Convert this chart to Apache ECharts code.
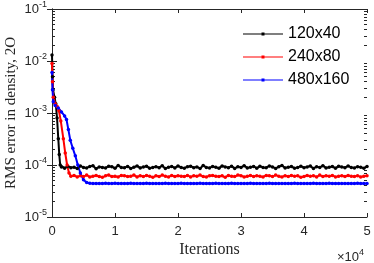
<!DOCTYPE html>
<html>
<head>
<meta charset="utf-8">
<script src="https://cdn.jsdelivr.net/npm/echarts@6/dist/echarts.min.js"></script>
<style>html,body{margin:0;padding:0;background:#fff;}#c{width:374px;height:263px;}</style>
</head>
<body>
<div id="c"></div>
<script>
// ---- data ----
const seriesNames = ['120x40', '240x80', '480x160'];
const xTickLabels = ['0', '1', '2', '3', '4', '5'];
const yTickExponents = [-5, -4, -3, -2, -1];

// transient parts (iteration, value)
const blackEarlyIter = [0, 80, 160, 400, 600, 800, 1000, 1150, 1300];
const blackEarlyVal  = [1.3e-2, 5.0e-3, 2.8e-3, 2.0e-3, 1.5e-3, 8.0e-4, 3.2e-4, 1.6e-4, 1.0e-4];
const redEarlyIter = [0, 80, 200, 500, 800, 1100, 1400, 1800, 2100, 2400, 2700];
const redEarlyVal  = [9.0e-3, 4.0e-3, 2.0e-3, 1.5e-3, 1.35e-3, 1.1e-3, 7.0e-4, 3.2e-4, 1.7e-4, 1.0e-4, 7.0e-5];
const blueEarlyIter = [0, 80, 200, 500, 1000, 1500, 2000, 2300, 2600, 2900, 3300, 3700, 4100, 4500, 5000, 5500, 6000];
const blueEarlyVal  = [6.0e-3, 2.8e-3, 1.65e-3, 1.4e-3, 1.25e-3, 1.05e-3, 8.8e-4, 7.5e-4, 4.8e-4, 3.0e-4, 2.1e-4, 1.5e-4, 1.0e-4, 7.0e-5, 5.2e-5, 4.6e-5, 4.45e-5];

// plateau parts, sampled every 500 iterations
const plateauStep = 500;
const blackPlateauStart = 1500;
const blackPlateau = [
9.2e-5,8.7e-5,9.5e-5,8.9e-5,9.1e-5,8.6e-5,9.6e-5,9.0e-5,8.8e-5,9.4e-5,9.7e-5,8.5e-5,9.2e-5,9.0e-5,8.8e-5,9.5e-5,9.3e-5,8.7e-5,9.8e-5,9.0e-5,
8.9e-5,9.4e-5,8.6e-5,9.1e-5,9.6e-5,8.8e-5,9.2e-5,9.5e-5,8.7e-5,9.0e-5,9.3e-5,8.9e-5,9.7e-5,8.6e-5,9.1e-5,9.4e-5,8.8e-5,9.6e-5,9.0e-5,8.7e-5,
9.3e-5,9.5e-5,8.9e-5,9.2e-5,8.6e-5,9.8e-5,9.0e-5,8.8e-5,9.4e-5,9.1e-5,8.7e-5,9.6e-5,9.2e-5,8.9e-5,9.5e-5,8.6e-5,9.3e-5,9.0e-5,9.7e-5,8.8e-5,
9.1e-5,9.4e-5,8.7e-5,9.5e-5,9.0e-5,8.9e-5,9.6e-5,9.2e-5,8.6e-5,9.3e-5,9.8e-5,8.8e-5,9.1e-5,9.4e-5,8.7e-5,9.0e-5,9.5e-5,8.9e-5,9.2e-5,9.6e-5,
8.6e-5,9.3e-5,9.0e-5,9.7e-5,8.8e-5,9.1e-5,9.4e-5,8.7e-5,9.5e-5,9.2e-5,8.9e-5,9.6e-5,9.0e-5,8.8e-5,9.3e-5,9.1e-5,8.7e-5,9.4e-5];
const redPlateauStart = 3000;
const redPlateau = [
6.1e-5,6.3e-5,5.9e-5,6.2e-5,6.0e-5,6.4e-5,5.9e-5,6.1e-5,6.3e-5,6.0e-5,5.8e-5,6.2e-5,6.4e-5,6.0e-5,6.1e-5,5.9e-5,6.3e-5,6.2e-5,6.0e-5,6.1e-5,
6.4e-5,5.9e-5,6.2e-5,6.0e-5,6.3e-5,6.1e-5,5.8e-5,6.2e-5,6.0e-5,6.4e-5,6.1e-5,5.9e-5,6.3e-5,6.0e-5,6.2e-5,6.1e-5,6.0e-5,6.3e-5,5.9e-5,6.2e-5,
6.1e-5,6.4e-5,6.0e-5,5.9e-5,6.2e-5,6.3e-5,6.1e-5,6.0e-5,6.2e-5,5.8e-5,6.3e-5,6.1e-5,6.0e-5,6.4e-5,6.2e-5,5.9e-5,6.1e-5,6.3e-5,6.0e-5,6.2e-5,
6.1e-5,5.9e-5,6.3e-5,6.2e-5,6.0e-5,6.4e-5,6.1e-5,5.9e-5,6.2e-5,6.0e-5,6.3e-5,6.1e-5,6.2e-5,5.8e-5,6.0e-5,6.3e-5,6.1e-5,6.2e-5,5.9e-5,6.4e-5,
6.0e-5,6.2e-5,6.1e-5,6.3e-5,5.9e-5,6.1e-5,6.2e-5,6.0e-5,6.3e-5,6.1e-5,6.0e-5,6.2e-5,5.9e-5,6.1e-5,6.2e-5];
const bluePlateauStart = 6500;
const bluePlateau = [
4.42e-5,4.40e-5,4.43e-5,4.41e-5,4.44e-5,4.40e-5,4.42e-5,4.45e-5,4.41e-5,4.43e-5,4.40e-5,4.42e-5,4.44e-5,4.41e-5,4.43e-5,4.42e-5,4.40e-5,4.44e-5,4.41e-5,4.42e-5,
4.43e-5,4.40e-5,4.42e-5,4.45e-5,4.41e-5,4.42e-5,4.43e-5,4.40e-5,4.44e-5,4.42e-5,4.41e-5,4.43e-5,4.42e-5,4.40e-5,4.44e-5,4.41e-5,4.43e-5,4.42e-5,4.41e-5,4.44e-5,
4.40e-5,4.42e-5,4.43e-5,4.41e-5,4.45e-5,4.42e-5,4.40e-5,4.43e-5,4.41e-5,4.42e-5,4.44e-5,4.40e-5,4.42e-5,4.43e-5,4.41e-5,4.42e-5,4.44e-5,4.40e-5,4.43e-5,4.42e-5,
4.41e-5,4.43e-5,4.40e-5,4.42e-5,4.44e-5,4.41e-5,4.42e-5,4.43e-5,4.40e-5,4.42e-5,4.45e-5,4.41e-5,4.43e-5,4.42e-5,4.40e-5,4.44e-5,4.41e-5,4.42e-5,4.43e-5,4.41e-5,
4.42e-5,4.40e-5,4.43e-5,4.42e-5,4.44e-5,4.41e-5,4.42e-5,4.43e-5];

// ---- build ----
function build(earlyIter, earlyVal, pStart, plateau) {
  const out = earlyIter.map((it, i) => [it, earlyVal[i]]);
  plateau.forEach((v, i) => out.push([pStart + i * plateauStep, v]));
  return out;
}
const dataBlack = build(blackEarlyIter, blackEarlyVal, blackPlateauStart, blackPlateau);
const dataRed = build(redEarlyIter, redEarlyVal, redPlateauStart, redPlateau);
const dataBlue = build(blueEarlyIter, blueEarlyVal, bluePlateauStart, bluePlateau);

const minorLog = [];
for (let e = -5; e < -1; e++) for (let k = 2; k <= 9; k++) minorLog.push(e + Math.log10(k));

const AX = '#262626';
const SANS = 'Liberation Sans';
const SERIF = 'Liberation Serif';
const gridRect = { left: 52, right: 7, top: 9, bottom: 46, outerBoundsMode: 'none', containLabel: false };

const supRich = {
  a: { fontSize: 13, fontFamily: SANS, color: AX, fontWeight: 'normal' },
  b: { fontSize: 9, fontFamily: SANS, color: AX, fontWeight: 'normal', padding: [0, 0, 9, 0] }
};

const chart = echarts.init(document.getElementById('c'), null, { renderer: 'canvas' });
const mkSeries = (name, color, data) => ({
  name, type: 'line', data, xAxisIndex: 0, yAxisIndex: 0,
  symbol: 'circle', symbolSize: 3.5, showSymbol: true,
  lineStyle: { color, width: 2 }, itemStyle: { color },
  color, animation: false, silent: true
});

chart.setOption({
  animation: false,
  backgroundColor: '#fff',
  grid: [Object.assign({}, gridRect), Object.assign({}, gridRect)],
  title: {
    text: '{a|×10}{b|4}', left: 332, top: 243,
    textStyle: { fontWeight: 'normal', rich: supRich }
  },
  legend: {
    orient: 'vertical', left: 238, top: 21,
    itemWidth: 40, itemHeight: 3, itemGap: 7,
    icon: 'path://M0,1L40,1L40,2L0,2Z M18.5,0L21.5,0L21.5,3L18.5,3Z',
    textStyle: { fontSize: 16, fontFamily: SANS, color: '#000', lineHeight: 16 },
    data: seriesNames
  },
  xAxis: [
    { type: 'value', gridIndex: 0, position: 'bottom', min: 0, max: 50000, interval: 10000,
      name: 'Iterations', nameLocation: 'middle', nameGap: 25, nameMoveOverlap: false,
      nameTextStyle: { fontFamily: SERIF, fontSize: 16, color: AX },
      axisLine: { show: true, lineStyle: { color: AX, width: 1 } },
      axisTick: { show: true, inside: true, length: 4, lineStyle: { color: AX } },
      axisLabel: { fontSize: 13, fontFamily: SANS, color: AX, margin: 8,
        formatter: v => xTickLabels[Math.round(v / 10000)] },
      splitLine: { show: false } },
    { type: 'value', gridIndex: 0, position: 'top', min: 0, max: 50000, interval: 10000,
      axisLine: { show: true, lineStyle: { color: AX, width: 1 } },
      axisTick: { show: true, inside: true, length: 4, lineStyle: { color: AX } },
      axisLabel: { show: false }, splitLine: { show: false } },
    { type: 'value', gridIndex: 1, min: 0, max: 50000, show: false }
  ],
  yAxis: [
    { type: 'log', gridIndex: 0, position: 'left', logBase: 10, min: 1e-5, max: 1e-1,
      name: 'RMS error in density, 2O', nameLocation: 'middle', nameGap: 33, nameMoveOverlap: false,
      nameTextStyle: { fontFamily: SERIF, fontSize: 15, color: AX },
      axisLine: { show: true, lineStyle: { color: AX, width: 1 } },
      axisTick: { show: true, inside: true, length: 5, lineStyle: { color: AX } },
      axisLabel: { margin: 5, rich: supRich,
        formatter: v => '{a|10}{b|' + Math.round(Math.log10(v)) + '}' },
      splitLine: { show: false } },
    { type: 'log', gridIndex: 0, position: 'right', logBase: 10, min: 1e-5, max: 1e-1,
      axisLine: { show: true, lineStyle: { color: AX, width: 1 } },
      axisTick: { show: true, inside: true, length: 5, lineStyle: { color: AX } },
      axisLabel: { show: false }, splitLine: { show: false } },
    { type: 'value', gridIndex: 1, position: 'left', min: -5, max: -1,
      axisLine: { show: false },
      axisTick: { show: true, inside: true, length: 3, customValues: minorLog, lineStyle: { color: AX } },
      axisLabel: { show: false }, splitLine: { show: false } },
    { type: 'value', gridIndex: 1, position: 'right', min: -5, max: -1,
      axisLine: { show: false },
      axisTick: { show: true, inside: true, length: 3, customValues: minorLog, lineStyle: { color: AX } },
      axisLabel: { show: false }, splitLine: { show: false } }
  ],
  series: [
    mkSeries(seriesNames[0], '#000000', dataBlack),
    mkSeries(seriesNames[1], '#ff0000', dataRed),
    mkSeries(seriesNames[2], '#0000ff', dataBlue)
  ]
});
</script>
</body>
</html>
